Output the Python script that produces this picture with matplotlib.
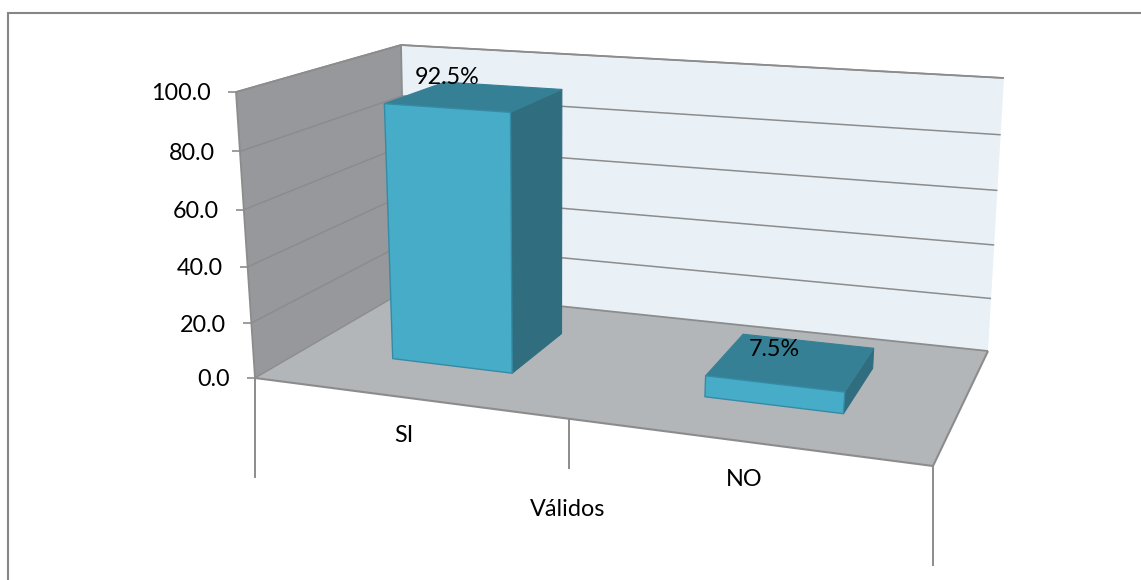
import numpy as np
import matplotlib
matplotlib.use("Agg")
import matplotlib.pyplot as plt
from matplotlib.patches import Polygon

plt.rcParams['font.family'] = ['Lato', 'DejaVu Sans']

categories = ["SI", "NO"]
values = [92.5, 7.5]
y_ticks = [0, 20, 40, 60, 80, 100]
group_label = "Válidos"

# pixel corners of the 3D plot box (u: category axis, v: value axis, w: depth)
BOX = {
    (0, 0, 0): (255, 378), (1, 0, 0): (933, 466),
    (0, 0, 1): (406, 290), (1, 0, 1): (988, 351),
    (0, 1, 0): (236, 92),  (1, 1, 0): (962, 142),
    (0, 1, 1): (401, 45),  (1, 1, 1): (1004, 78),
}
PERSP = 1.16
PERSP_V = 1.05
BAR_HALF = 0.1
BAR_SHIFT = 0.002
DEPTH = (0.34, 0.75)
YMAX = 100.0
FS = 16.8
TEXT_DY = 2

C_WALL_L, C_WALL_B, C_FLOOR = "#96989b", "#e9f1f7", "#b2b6b9"
C_FRONT, C_TOP, C_SIDE, C_EDGE = "#47acc8", "#368096", "#306d7f", "#358ba5"
C_AXIS = "#8c8c8c"


def warp(t, k):
    """Foreshortening of a 0..1 axis position."""
    return t / (t + k * (1 - t))


def proj(t, value, w):
    u, v = warp(t, PERSP), warp(value / YMAX, PERSP_V)
    p = np.zeros(2)
    for (a, b, c), xy in BOX.items():
        p += (u if a else 1 - u) * (v if b else 1 - v) * (w if c else 1 - w) * np.array(xy, float)
    return tuple(p)


fig = plt.figure(figsize=(11.41, 5.8), dpi=100, facecolor="white")
ax = fig.add_axes([0, 0, 1, 1])
ax.set_xlim(0, 1141)
ax.set_ylim(580, 0)
ax.axis("off")


def poly(pts, color, edge="none", lw=0.0, z=1):
    ax.add_patch(Polygon(pts, closed=True, facecolor=color, edgecolor=edge, linewidth=lw,
                         joinstyle="round", zorder=z))


def line(a, b, lw=1.3, z=2, color=C_AXIS):
    ax.plot([a[0], b[0]], [a[1], b[1]], color=color, lw=lw, zorder=z, solid_capstyle="butt")


# chart frame (only its top and left sides are inside the crop)
ax.plot([8, 8, 1141], [580, 13, 13], color="#868686", lw=1.5, zorder=1,
        solid_joinstyle="miter")

# walls and floor
poly([proj(0, 0, 1), proj(1, 0, 1), proj(1, YMAX, 1), proj(0, YMAX, 1)], C_WALL_B, z=1)
poly([proj(0, 0, 0), proj(0, 0, 1), proj(0, YMAX, 1), proj(0, YMAX, 0)], C_WALL_L, z=1)
poly([proj(0, 0, 0), proj(1, 0, 0), proj(1, 0, 1), proj(0, 0, 1)], C_FLOOR, z=1)

# gridlines and value ticks
for val in y_ticks:
    f, b, r = proj(0, val, 0), proj(0, val, 1), proj(1, val, 1)
    if val > 0:
        line(f, b, lw=1.1)
        line(b, r, lw=1.1)
    line((f[0] - 8, f[1]), f, lw=1.2)
    ax.text(f[0] - 25, f[1] + TEXT_DY, f"{val:.1f}", ha="right", va="center", fontsize=FS,
            color="black", zorder=6)

# box outline
line(proj(0, YMAX, 0), proj(0, YMAX, 1))
line(proj(0, YMAX, 1), proj(1, YMAX, 1))
line(proj(0, YMAX, 0), proj(0, 0, 0))
line(proj(0, YMAX, 1), proj(0, 0, 1))
line(proj(0, 0, 0), proj(1, 0, 0), lw=1.5)
line(proj(1, 0, 0), proj(1, 0, 1), lw=1.5)
line(proj(0, 0, 1), proj(1, 0, 1), lw=1.3)
line(proj(0, 0, 0), proj(0, 0, 1), lw=1.0)

# category separators
n = len(categories)
for i in range(n + 1):
    t = i / n
    x0, y0 = proj(t, 0, 0)
    drop = 100 if i in (0, n) else 50
    line((x0, y0), (x0, y0 + drop), lw=1.4)

# bars
w0, w1 = DEPTH
for i, (cat, val) in enumerate(zip(categories, values)):
    tc = (i + 0.5) / n + BAR_SHIFT
    t0, t1 = tc - BAR_HALF, tc + BAR_HALF
    poly([proj(t1, 0, w0), proj(t1, 0, w1), proj(t1, val, w1), proj(t1, val, w0)], C_SIDE,
         edge=C_SIDE, lw=0.8, z=3)
    poly([proj(t0, val, w0), proj(t1, val, w0), proj(t1, val, w1), proj(t0, val, w1)], C_TOP,
         edge=C_TOP, lw=0.8, z=3)
    poly([proj(t0, 0, w0), proj(t1, 0, w0), proj(t1, val, w0), proj(t0, val, w0)], C_FRONT,
         edge=C_EDGE, lw=1.0, z=4)

# labels
label_xy = [(447, 76), (774, 347)]
cat_xy = [(404, 433), (744, 478)]
for cat, val, lp, cp in zip(categories, values, label_xy, cat_xy):
    ax.text(lp[0], lp[1] + TEXT_DY, f"{val}%", ha="center", va="center", fontsize=FS,
            color="black", zorder=6)
    ax.text(cp[0], cp[1] + TEXT_DY, cat, ha="center", va="center", fontsize=FS,
            color="black", zorder=6)
ax.text(568, 508 + TEXT_DY, group_label, ha="center", va="center", fontsize=FS,
        color="black", zorder=6)

fig.savefig("out.png", dpi=100, facecolor="white")
